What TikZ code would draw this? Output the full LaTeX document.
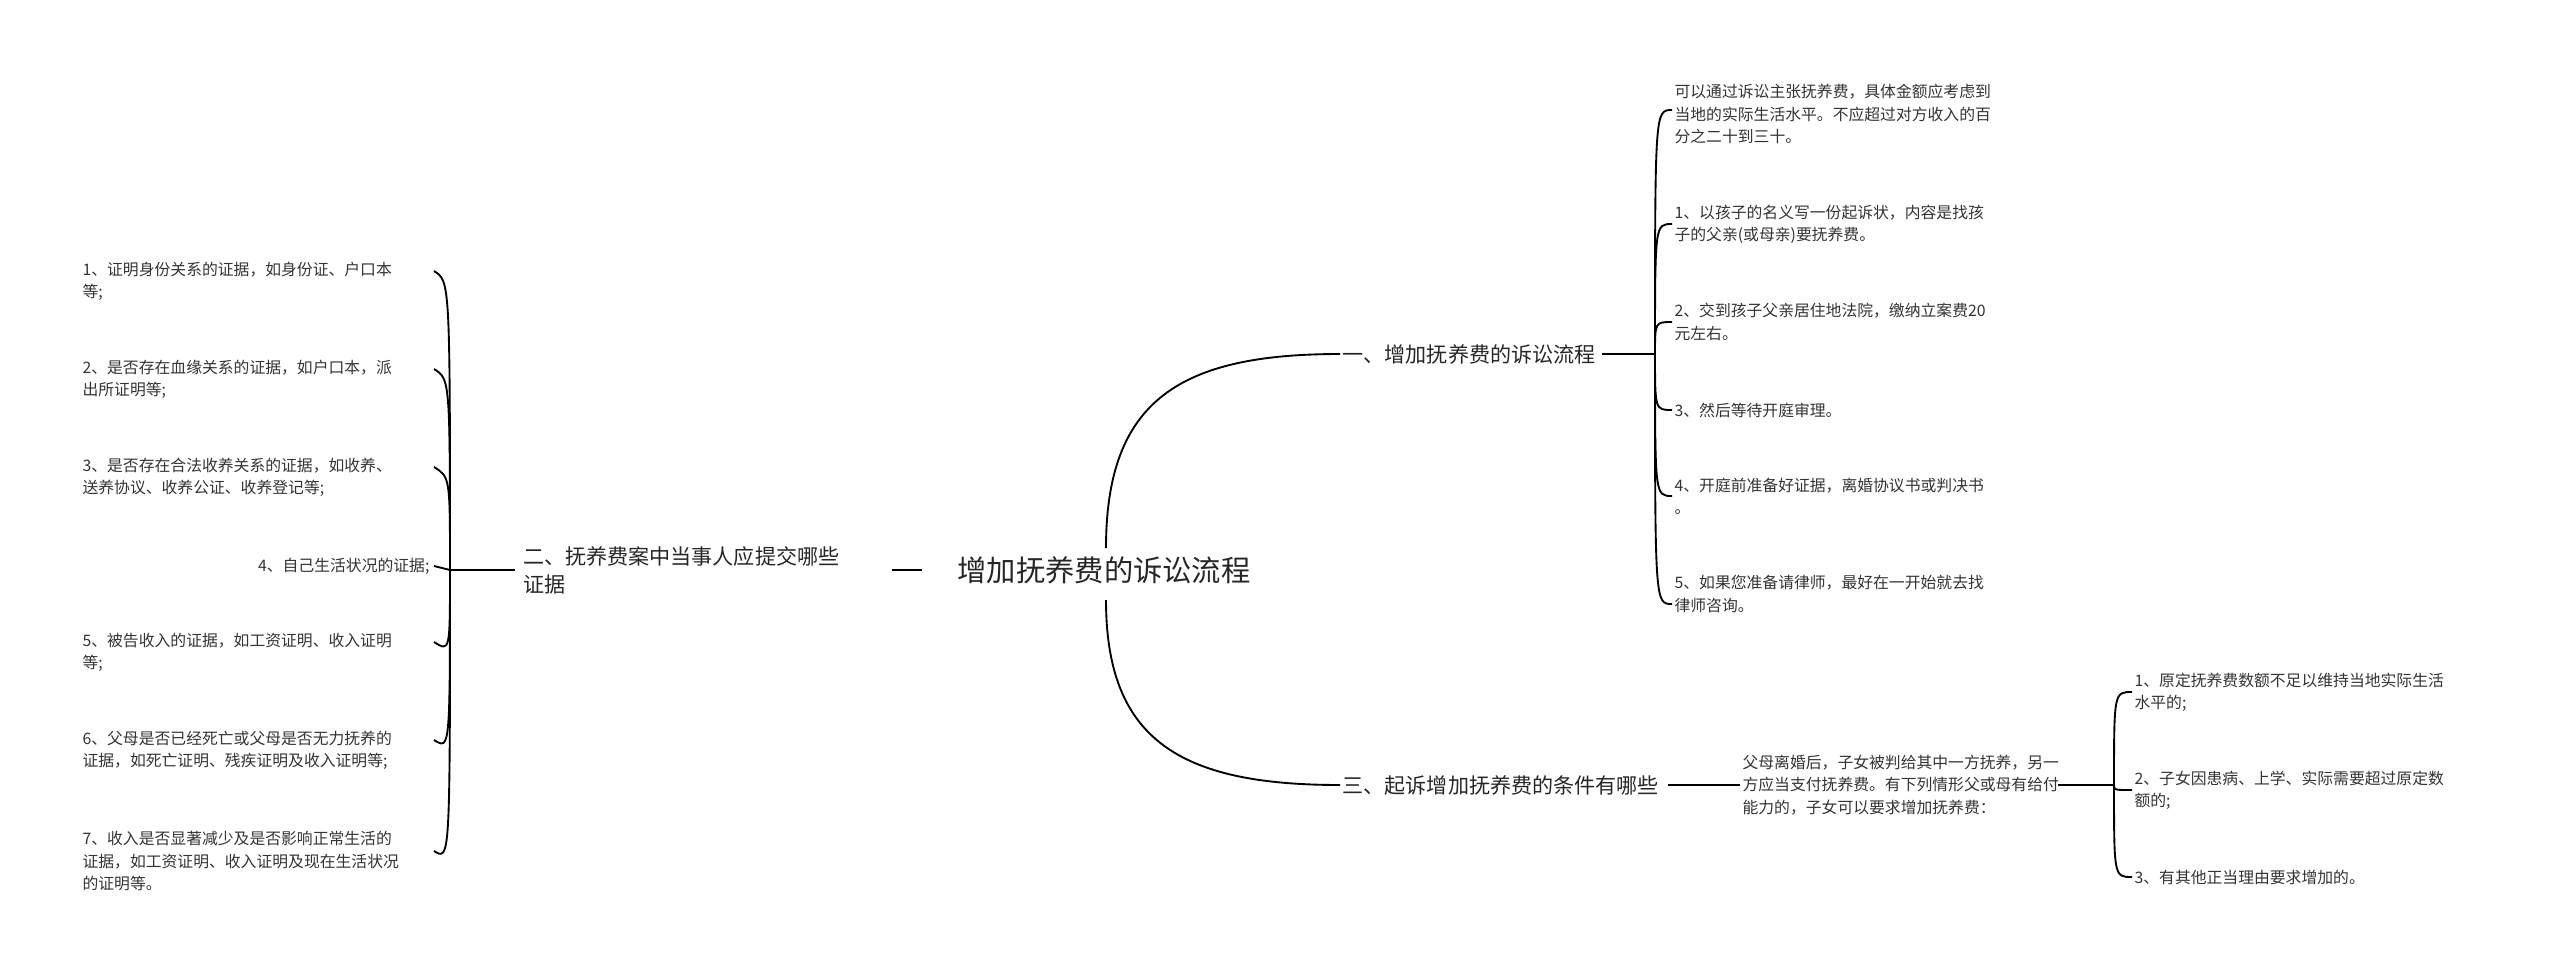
\documentclass[tikz,border=0pt]{standalone}
\usepackage{fontspec}
\setmainfont{Noto Sans CJK SC}
\begin{document}
\begin{tikzpicture}[x=0.03cm,y=-0.03cm,
  leaf/.style={inner sep=2pt,font=\fontsize{13.5pt}{19pt}\selectfont,text=black!80,align=left},
  leafR/.style={leaf,anchor=east,align=right},
  leafL/.style={leaf,anchor=west},
  branch/.style={inner sep=2pt,font=\fontsize{18pt}{24pt}\selectfont,text=black!85,align=left,anchor=west},
  ln/.style={line width=1.6pt,black}]
\useasboundingbox (0,0) rectangle (2560,975);
\node[inner sep=2pt,font=\fontsize{25pt}{30pt}\selectfont,text=black!85,anchor=west] (c) at (955,570) {增加抚养费的诉讼流程};
% branches
\node[branch] (b1) at (1340,354) {一、增加抚养费的诉讼流程};
\node[branch] (b3) at (1340,785) {三、起诉增加抚养费的条件有哪些};
\node[branch,anchor=east] (b2) at (842,570) {二、抚养费案中当事人应提交哪些\\证据};
\coordinate (cu) at (1106,548);
\coordinate (cd) at (1106,600);
\draw[ln] (cu) .. controls (1106,400) and (1180,354) .. (b1.west);
\draw[ln] (cd) .. controls (1106,740) and (1180,785) .. (b3.west);
\coordinate (cl) at (892,570);
\coordinate (cl2) at (922,570);
\draw[ln] (cl) -- (cl2);
% branch1 children
\node[leafL] (a0) at (1672,114) {可以通过诉讼主张抚养费，具体金额应考虑到\\当地的实际生活水平。不应超过对方收入的百\\分之二十到三十。};
\node[leafL] (a1) at (1672,224) {1、以孩子的名义写一份起诉状，内容是找孩\\子的父亲(或母亲)要抚养费。};
\node[leafL] (a2) at (1672,322) {2、交到孩子父亲居住地法院，缴纳立案费20\\元左右。};
\node[leafL] (a3) at (1672,410) {3、然后等待开庭审理。};
\node[leafL] (a4) at (1672,496) {4、开庭前准备好证据，离婚协议书或判决书\\。};
\node[leafL] (a5) at (1672,594) {5、如果您准备请律师，最好在一开始就去找\\律师咨询。};
\coordinate (t1) at (1655,354);
\draw[ln] (b1.east) ++(4,0) -- (t1);
\foreach \n/\y in {a0/110,a1/224,a2/322,a3/410,a4/496,a5/604}
  \draw[ln] (t1) .. controls (1655,\y) and (1655,\y) .. (1672,\y);
% branch3 children
\node[leafL] (m) at (1740,785) {父母离婚后，子女被判给其中一方抚养，另一\\方应当支付抚养费。有下列情形父或母有给付\\能力的，子女可以要求增加抚养费：};
\draw[ln] (b3.east) ++(6,0) -- (m.west);
\node[leafL] (d1) at (2132,692) {1、原定抚养费数额不足以维持当地实际生活\\水平的;};
\node[leafL] (d2) at (2132,790) {2、子女因患病、上学、实际需要超过原定数\\额的;};
\node[leafL] (d3) at (2132,877) {3、有其他正当理由要求增加的。};
\coordinate (t3) at (2114,785);
\draw[ln] (m.east) ++(-4,0) -- (t3);
\foreach \y in {692,790,877}
  \draw[ln] (t3) .. controls (2114,\y) and (2114,\y) .. (2132,\y);
% branch2 children
\node[leafL] (e1) at (80,281) {1、证明身份关系的证据，如身份证、户口本\\等;};
\node[leafL] (e2) at (80,379) {2、是否存在血缘关系的证据，如户口本，派\\出所证明等;};
\node[leafL] (e3) at (80,477) {3、是否存在合法收养关系的证据，如收养、\\送养协议、收养公证、收养登记等;};
\node[leafR] (e4) at (432,566) {4、自己生活状况的证据;};
\node[leafL] (e5) at (80,652) {5、被告收入的证据，如工资证明、收入证明\\等;};
\node[leafL] (e6) at (80,750) {6、父母是否已经死亡或父母是否无力抚养的\\证据，如死亡证明、残疾证明及收入证明等;};
\node[leafL] (e7) at (80,861) {7、收入是否显著减少及是否影响正常生活的\\证据，如工资证明、收入证明及现在生活状况\\的证明等。};
\coordinate (t2) at (450,570);
\draw[ln] (b2.west) ++(-6,0) -- (t2);
\foreach \y in {281,379,477,652,750,861}
  \draw[ln] (t2) .. controls (450,\y) and (450,\y) .. (434,\y-10);
\draw[ln] (t2) -- (434,566);
\end{tikzpicture}
\end{document}
